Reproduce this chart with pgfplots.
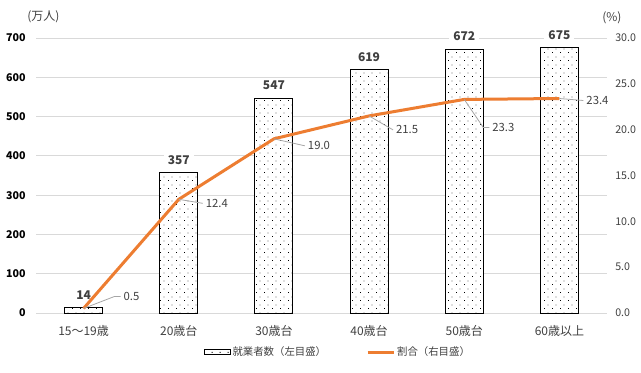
\documentclass[border=0pt]{standalone}
\usepackage{pgfplots}
\pgfplotsset{compat=1.18}
\usetikzlibrary{patterns.meta}
\usepackage{fontspec}
\setmainfont{Noto Sans CJK JP}

\definecolor{exorange}{HTML}{ED7D31}
\definecolor{gridgray}{HTML}{D9D9D9}
\definecolor{txt}{HTML}{404040}
\definecolor{leader}{HTML}{A6A6A6}

\tikzdeclarepattern{
  name=exceldots,
  type=uncolored,
  bottom left={(0pt,0pt)},
  top right={(6pt,6pt)},
  tile size={(6pt,6pt)},
  code={
    \fill (0pt,0pt) rectangle (0.75pt,0.75pt);
    \fill (3pt,3pt) rectangle (3.75pt,3.75pt);
  }
}

\begin{document}
\begin{tikzpicture}
\useasboundingbox (0,0) rectangle (480.75pt,279pt);

% ---------- left axis: bars ----------
\begin{axis}[
  at={(27pt,44.25pt)}, anchor=south west,
  scale only axis, width=428.25pt, height=206.25pt,
  xmin=-0.5, xmax=5.5, ymin=0, ymax=700,
  xtick={0,1,2,3,4,5},
  xticklabels={15～19歳,20歳台,30歳台,40歳台,50歳台,60歳以上},
  ytick={0,100,...,700},
  ymajorgrids, grid style={gridgray, line width=0.75pt},
  axis line style={draw=none}, tick style={draw=none},
  major tick length=0pt,
  /pgf/number format/assume math mode=true,
  xticklabel style={anchor=base, inner sep=0pt, yshift=-16.5pt, font=\fontsize{9}{11}\selectfont, text=txt},
  yticklabel style={anchor=east, inner sep=0pt, xshift=-7.5pt, font=\bfseries\fontsize{8}{10}\selectfont, text=black},
  clip=false,
]
\addplot[ybar, bar width=0.4, draw=black, line width=0.75pt, fill=white,
  postaction={pattern={exceldots}, pattern color=black},
  nodes near coords,
  every node near coord/.style={anchor=center, yshift=9.5pt, fill=white, draw=none,
     inner xsep=3pt, inner ysep=1pt, text=txt, font=\bfseries\fontsize{9}{11}\selectfont},
] coordinates {(0,14) (1,357) (2,547) (3,619) (4,672) (5,675)};
\end{axis}

% ---------- right axis: line ----------
\begin{axis}[
  at={(27pt,44.25pt)}, anchor=south west,
  scale only axis, width=428.25pt, height=206.25pt,
  xmin=-0.5, xmax=5.5, ymin=0, ymax=30,
  axis x line=none,
  axis y line*=right,
  ytick={0,5,...,30},
  axis line style={draw=none}, tick style={draw=none},
  major tick length=0pt,
  /pgf/number format/assume math mode=true,
  yticklabel={\pgfmathprintnumber[fixed,fixed zerofill,precision=1]{\tick}},
  yticklabel style={anchor=west, inner sep=0pt, xshift=6pt, font=\fontsize{8}{10}\selectfont, text=txt},
  clip=false,
  legend style={at={(0.528,-0.142)}, anchor=center, draw=none, fill=none,
     font=\fontsize{7.8}{10}\selectfont, text=txt,
     nodes={inner sep=1pt},
     /tikz/every even column/.append style={column sep=29pt}},
  legend columns=2,
  legend cell align=left,
]
\addlegendimage{legend image code/.code={
  \draw[black, line width=0.6pt, fill=white, postaction={pattern={exceldots}, pattern color=black}]
    (0pt,-1.7pt) rectangle (20pt,1.7pt);}}
\addlegendentry{就業者数（左目盛）}
\addplot[exorange, line width=2.25pt, mark=none,
  legend image code/.code={\draw[exorange, line width=2.25pt] (0pt,0pt) -- (20pt,0pt);}]
  coordinates {(0,0.5) (1,12.4) (2,19.0) (3,21.5) (4,23.3) (5,23.4)};
\addlegendentry{割合（右目盛）}

\begin{scope}[every node/.style={anchor=west, inner sep=2pt, text=txt, font=\fontsize{8.5}{10}\selectfont}]
\draw[leader, line width=0.6pt] (axis cs:0,0.5) -- ++(23.25pt,9pt) -- ++(4.5pt,0pt) node {0.5};
\draw[leader, line width=0.6pt] (axis cs:1,12.4) -- ++(18pt,-3pt) node {12.4};
\draw[leader, line width=0.6pt] (axis cs:2,19.0) -- ++(23.25pt,-5.25pt) node {19.0};
\draw[leader, line width=0.6pt] (axis cs:3,21.5) -- ++(18pt,-10.5pt) node {21.5};
\draw[leader, line width=0.6pt] (axis cs:4,23.3) -- ++(14.25pt,-21pt) -- ++(4.5pt,0pt) node {23.3};
\draw[leader, line width=0.6pt] (axis cs:5,23.4) -- ++(18pt,-1.5pt) node {23.4};
\end{scope}
\end{axis}

\node[anchor=west, inner sep=0pt, font=\fontsize{9}{11}\selectfont, text=txt] at (20.25pt,266.25pt) {(万人)};
\node[anchor=west, inner sep=0pt, font=\fontsize{9}{11}\selectfont, text=txt] at (451.5pt,265.5pt) {(\%)};
\end{tikzpicture}
\end{document}
